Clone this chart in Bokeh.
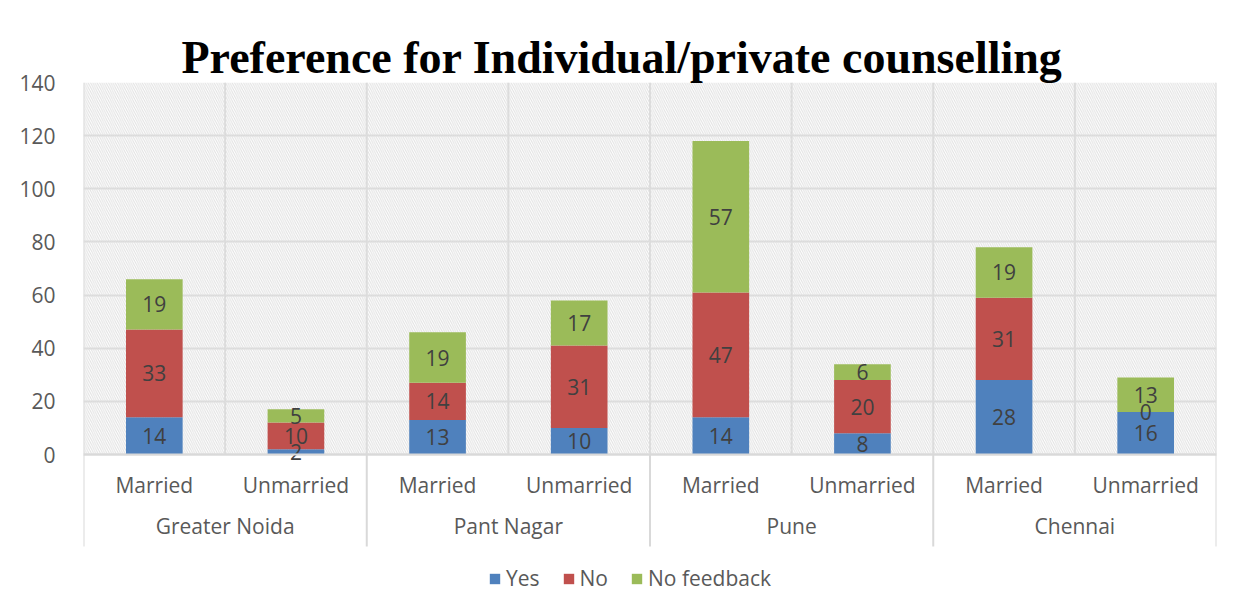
from bokeh.plotting import figure
from bokeh.models import (ColumnDataSource, FactorRange, BoxAnnotation, Legend, LegendItem,
                          CategoricalAxis, FixedTicker)
from bokeh.core.properties import value
from bokeh.embed import file_html
from bokeh.resources import INLINE

cities = ["Greater Noida", "Pant Nagar", "Pune", "Chennai"]
statuses = ["Married", "Unmarried"]
series = ["Yes", "No", "No feedback"]
colors = ["#4f81bd", "#c0504d", "#9bbb59"]

yes = [14, 2, 13, 10, 14, 8, 28, 16]
no = [33, 10, 14, 31, 47, 20, 31, 0]
no_feedback = [19, 5, 19, 17, 57, 6, 19, 13]
y_ticks = [0, 20, 40, 60, 80, 100, 120, 140]

factors = [(c, s) for c in cities for s in statuses]
src = ColumnDataSource(dict(x=factors, **{"Yes": yes, "No": no, "No feedback": no_feedback}))

FONT = "Open Sans"
GRID = "#d9d9d9"
TXT = "#595959"

Y_MAX = y_ticks[-1]
PX_PER_UNIT = 372 / Y_MAX          # plot area 372 px tall for 0..140
Y_MIN = -146 / PX_PER_UNIT         # room below the axis for labels and legend
SEP_DEPTH = -92 / PX_PER_UNIT      # group separators reach down through the labels

p = figure(x_range=FactorRange(*factors, group_padding=0, factor_padding=0, range_padding=0),
           y_range=(Y_MIN, Y_MAX), frame_width=1133, frame_height=518,
           output_backend="svg", toolbar_location=None, x_axis_location=None,
           min_border_left=83, min_border_top=82, min_border_right=26, min_border_bottom=0)

p.title.text = "Preference for Individual/private counselling"
p.title.text_font = "Liberation Serif"
p.title.text_font_size = "46px"
p.title.text_font_style = "bold"
p.title.align = "left"
p.title.text_color = "#000000"
p.title.offset = 98
p.title.standoff = 0

p.outline_line_color = None

# hatched plot area (only above the value axis)
p.add_layout(BoxAnnotation(bottom=0, fill_alpha=0, line_alpha=0, hatch_pattern="\\",
                           hatch_color="#e0e0e0", hatch_scale=4.5, hatch_weight=1,
                           level="underlay"))

# vertical grid lines at category boundaries, and group separators through the labels
bounds = list(range(len(factors) + 1))
p.segment(x0=bounds, x1=bounds, y0=[0] * len(bounds), y1=[Y_MAX] * len(bounds),
          line_color=GRID, line_width=2, level="underlay")
gbounds = list(range(0, len(factors) + 1, len(statuses)))
p.segment(x0=gbounds, x1=gbounds, y0=[0] * len(gbounds), y1=[SEP_DEPTH] * len(gbounds),
          line_color=GRID, line_width=2, level="underlay")

renderers = p.vbar_stack(series, x="x", width=0.4, color=colors, source=src, line_width=0)

# data labels centred in each segment
bottoms = [0] * len(factors)
for name, vals in zip(series, [yes, no, no_feedback]):
    mids = [b + v / 2 for b, v in zip(bottoms, vals)]
    p.text(x=factors, y=mids, text=[str(v) for v in vals], text_align="center",
           text_baseline="middle", text_font=value(FONT), text_font_size="21px",
           text_color="#404040")
    bottoms = [b + v for b, v in zip(bottoms, vals)]

p.ygrid.ticker = FixedTicker(ticks=y_ticks)
p.ygrid.grid_line_color = GRID
p.ygrid.grid_line_width = 2
p.ygrid.level = "underlay"
p.xgrid.grid_line_color = None

p.yaxis.ticker = FixedTicker(ticks=y_ticks)
p.yaxis.axis_line_color = None
p.yaxis.major_tick_line_color = None
p.yaxis.minor_tick_line_color = None
p.yaxis.major_label_text_font = FONT
p.yaxis.major_label_text_font_size = "21px"
p.yaxis.major_label_text_color = TXT
p.yaxis.major_label_standoff = 22

xaxis = CategoricalAxis(fixed_location=0)
xaxis.axis_line_color = GRID
xaxis.axis_line_width = 2
xaxis.major_tick_line_color = None
xaxis.minor_tick_line_color = None
xaxis.major_label_text_font = FONT
xaxis.major_label_text_font_size = "21px"
xaxis.major_label_text_color = TXT
xaxis.group_text_font = FONT
xaxis.group_text_font_size = "21px"
xaxis.group_text_color = TXT
xaxis.group_text_font_style = "normal"
xaxis.major_label_standoff = 10
xaxis.separator_line_color = None
p.add_layout(xaxis, "below")

legend = Legend(items=[LegendItem(label=s, renderers=[r]) for s, r in zip(series, renderers)],
                orientation="horizontal", location=(405, 8),
                label_text_font=FONT, label_text_font_size="21px", label_text_color=TXT,
                glyph_width=13, glyph_height=13, spacing=22, label_standoff=5,
                border_line_color=None, background_fill_alpha=0, margin=0, padding=0)
p.add_layout(legend, "center")

html = file_html(p, INLINE)
open("out.html", "w").write(html)
